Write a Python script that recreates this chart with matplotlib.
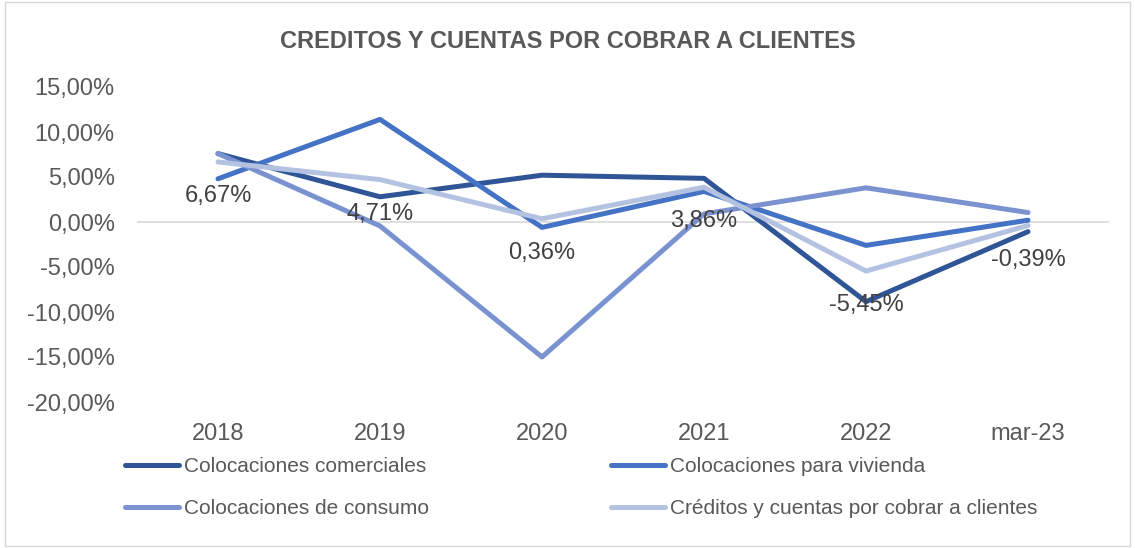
import matplotlib
matplotlib.use("Agg")
import matplotlib.pyplot as plt
from matplotlib.ticker import FuncFormatter

plt.rcParams["font.family"] = ["Liberation Sans", "DejaVu Sans"]

# ── data ────────────────────────────────────────────────────────
periods = ["2018", "2019", "2020", "2021", "2022", "mar-23"]
comerciales = [7.6, 2.8, 5.2, 4.85, -8.85, -1.07]
vivienda = [4.8, 11.4, -0.6, 3.4, -2.6, 0.2]
consumo = [7.6, -0.44, -15.0, 0.9, 3.8, 1.05]
creditos = [6.67, 4.71, 0.36, 3.86, -5.45, -0.39]

series = [
    ("Colocaciones comerciales", comerciales, "#2F5597"),
    ("Colocaciones para vivienda", vivienda, "#4472C4"),
    ("Colocaciones de consumo", consumo, "#7A93D0"),
    ("Créditos y cuentas por cobrar a clientes", creditos, "#B4C2E2"),
]

TXT = "#595959"

fig = plt.figure(figsize=(11.35, 5.48), dpi=100)
fig.patch.set_facecolor("white")
ax = fig.add_axes([137 / 1135, 1 - 402 / 548, 972 / 1135, 315 / 548])

x = range(len(periods))
handles = {}
for name, vals, col in series:
    (ln,) = ax.plot(x, vals, color=col, lw=3.6, solid_capstyle="round",
                    solid_joinstyle="round", label=name, zorder=3)
    handles[name] = ln

# data labels for the total series
for i, v in enumerate(creditos):
    ax.annotate(f"{v:.2f}%".replace(".", ","), (i, v), xytext=(0, -34),
                textcoords="offset pixels", ha="center", va="center",
                fontsize=17, color="#404040", zorder=4)

ax.axhline(0, color="#D9D9D9", lw=1.2, zorder=1)
ax.set_xlim(-0.5, len(periods) - 0.5)
ax.set_ylim(-20, 15)
ax.set_yticks(range(-20, 16, 5))
ax.yaxis.set_major_formatter(FuncFormatter(lambda v, p: f"{v:.2f}%".replace(".", ",")))
ax.set_xticks(list(x))
ax.set_xticklabels(periods)
ax.tick_params(axis="both", length=0, labelsize=17, labelcolor=TXT)
ax.tick_params(axis="x", pad=15)
ax.tick_params(axis="y", pad=16)
for s in ax.spines.values():
    s.set_visible(False)

fig.text(0.5, 1 - 41 / 548, "CREDITOS Y CUENTAS POR COBRAR A CLIENTES",
         ha="center", va="center", fontsize=17, fontweight="bold", color=TXT)

order = ["Colocaciones comerciales", "Colocaciones de consumo",
         "Colocaciones para vivienda", "Créditos y cuentas por cobrar a clientes"]
leg = fig.legend([handles[n] for n in order], order, ncol=2,
                 loc="upper left", bbox_to_anchor=(125 / 1135, 1 - 457 / 548),
                 frameon=False, fontsize=15, labelcolor=TXT,
                 borderpad=0, borderaxespad=0,
                 handlelength=2.6, handletextpad=0.25, columnspacing=8.7,
                 labelspacing=1.1)

# chart border
fig.add_artist(plt.Rectangle((0.004, 0.004), 0.992, 0.992, transform=fig.transFigure,
                             fill=False, edgecolor="#D9D9D9", lw=1))

fig.savefig("out.png", dpi=100)
